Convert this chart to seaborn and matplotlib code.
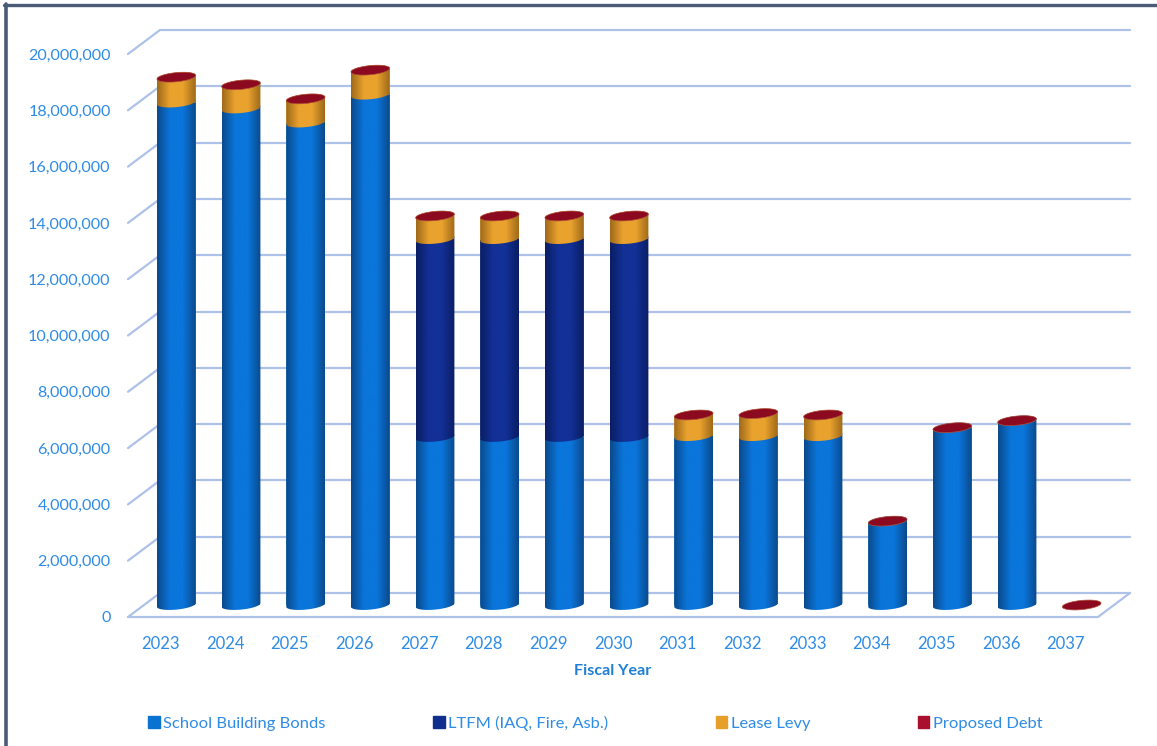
import numpy as np
import pandas as pd
import matplotlib
matplotlib.use("Agg")
import matplotlib.pyplot as plt
import seaborn as sns
from matplotlib.colors import LinearSegmentedColormap
from matplotlib.lines import Line2D
from matplotlib.patches import Patch
from matplotlib.path import Path
from matplotlib.ticker import FuncFormatter
from matplotlib.transforms import ScaledTranslation

years = ["2023", "2024", "2025", "2026", "2027", "2028", "2029", "2030",
         "2031", "2032", "2033", "2034", "2035", "2036", "2037"]
school_bonds = [17850000, 17640000, 17140000, 18130000, 5970000, 5970000, 5970000, 5970000,
                6000000, 6000000, 6000000, 2980000, 6300000, 6550000, 0]
ltfm = [0, 0, 0, 0, 7030000, 7030000, 7030000, 7030000,
        0, 0, 0, 0, 0, 0, 0]
lease_levy = [900000, 840000, 840000, 870000, 820000, 820000, 820000, 820000,
              750000, 800000, 750000, 0, 0, 0, 0]
proposed_debt = [0] * 15
y_ticks = [0, 2000000, 4000000, 6000000, 8000000, 10000000,
           12000000, 14000000, 16000000, 18000000, 20000000]

series_names = ["School Building Bonds", "LTFM (IAQ, Fire, Asb.)", "Lease Levy", "Proposed Debt"]
series_values = [school_bonds, ltfm, lease_levy, proposed_debt]
legend_colors = ["#0A73D2", "#0F2F8F", "#E6A02A", "#A8102E"]
edge_colors = ["#0A4A8C", "#0A1E63", "#A06A1A", "#6E0818"]
mid_colors = ["#0A75DA", "#123096", "#E9A22D", "#8B0A1F"]

W, H = 1157, 746
TEXT_BLUE = "#2E8BE6"
GRID_BLUE = "#AEC1E9"
BAR_WIDTH = 0.6

sns.set_theme(style="white")
plt.rcParams["font.family"] = ["Lato", "DejaVu Sans"]

fig = plt.figure(figsize=(W / 100, H / 100), dpi=100)
# axes sit on the middle plane of the fake 3D box, 20,000,000 = 563 px
px_per_unit = 563 / 20000000
y_low, y_high = -1000000, 21000000
ax_bottom = 605 + 1000000 * px_per_unit
ax_top = 605 - 21000000 * px_per_unit
ax = fig.add_axes([144 / W, 1 - ax_bottom / H, 970 / W, (ax_bottom - ax_top) / H])

front = ScaledTranslation(-16 / 100, 12 / -100, fig.dpi_scale_trans)
depth_x = 16 / (970 / 15)
depth_y = 12 / px_per_unit

bottoms = np.zeros(len(years))
b = 4.6 / px_per_unit
tilt = (1.8 / px_per_unit) / (BAR_WIDTH / 2)


def ellipse_arc(cx, cy, start, stop):
    t = np.linspace(start, stop, 40)
    dx = BAR_WIDTH / 2 * np.cos(t)
    return cx + dx, cy + b * np.sin(t) + tilt * dx


def cylinder_path(cx, low, high):
    x1, y1 = ellipse_arc(cx, low, np.pi, 2 * np.pi)
    x2, y2 = ellipse_arc(cx, high, 0, np.pi)
    return Path(np.column_stack([np.r_[x1, x2, x1[0]], np.r_[y1, y2, y1[0]]]), closed=True)


for k, (name, values) in enumerate(zip(series_names, series_values)):
    df = pd.DataFrame({"year": years, "value": values})
    sns.barplot(data=df, x="year", y="value", bottom=bottoms, color=legend_colors[k], saturation=1,
                width=BAR_WIDTH, ax=ax, zorder=3 + k, linewidth=0)
    cmap = LinearSegmentedColormap.from_list(
        name, [edge_colors[k], mid_colors[k], mid_colors[k], edge_colors[k]])
    for bar in ax.containers[-1]:
        low, high = bar.get_y(), bar.get_y() + bar.get_height()
        if high <= low:
            bar.set_visible(False)
            continue
        cx = bar.get_x() + bar.get_width() / 2
        path = cylinder_path(cx, low, high)
        bar.set_clip_path(path, ax.transData)
        im = ax.imshow(np.linspace(0, 1, 64).reshape(1, -1), cmap=cmap, aspect="auto",
                       extent=(bar.get_x(), bar.get_x() + bar.get_width(), low - 2 * b, high + 2 * b),
                       zorder=3 + k)
        im.set_clip_path(path, ax.transData)
    bottoms = bottoms + np.array(values)

# red cap on top of every stack
for i, total in enumerate(bottoms):
    xs, ys = ellipse_arc(i, total, 0, 2 * np.pi)
    ax.fill(xs, ys, color=mid_colors[3], lw=0.5, ec="#B0503A", zorder=8)

# walls and floor
left, right = -0.5, 14.5
for v in y_ticks:
    ax.plot([left + depth_x, right + depth_x], [v + depth_y, v + depth_y], color=GRID_BLUE, lw=1.6,
            clip_on=False, zorder=1)
    ax.plot([left - depth_x, left + depth_x], [v - depth_y, v + depth_y], color=GRID_BLUE, lw=1.6,
            clip_on=False, zorder=1)
ax.plot([right - depth_x, right + depth_x], [-depth_y, depth_y], color=GRID_BLUE, lw=1.6,
        clip_on=False, zorder=1)
ax.plot([left - depth_x, right - depth_x], [-depth_y, -depth_y], color=GRID_BLUE, lw=1.6,
        clip_on=False, zorder=1)

ax.set_xlim(left, right)
ax.set_ylim(y_low, y_high)
ax.set_yticks(y_ticks)
ax.yaxis.set_major_formatter(FuncFormatter(lambda v, pos: f"{int(v):,}"))
ax.tick_params(axis="y", length=0, pad=12.5, labelsize=11.6, labelcolor=TEXT_BLUE)
ax.tick_params(axis="x", length=0, pad=0, labelsize=12, labelcolor=TEXT_BLUE)
for lab in ax.get_yticklabels() + ax.get_xticklabels():
    lab.set_transform(lab.get_transform() + front)
for lab in ax.get_xticklabels():
    lab.set_transform(lab.get_transform() + ScaledTranslation(0, 0.09, fig.dpi_scale_trans))
for spine in ax.spines.values():
    spine.set_visible(False)
ax.patch.set_visible(False)

ax.set_ylabel("")
ax.set_xlabel("Fiscal Year", fontsize=11.6, fontweight="bold", color="#1F7FD6")
ax.xaxis.set_label_coords(0.5 - 16 / 970, 1 - (664 - ax_top) / (ax_bottom - ax_top))

handles = [Patch(color=c, label=n) for c, n in zip(legend_colors, series_names)]
ax.legend(handles=handles, loc="center left", bbox_to_anchor=(148 / W, 1 - 723 / H),
          bbox_transform=fig.transFigure, ncol=4, frameon=False, fontsize=11.85, labelcolor=TEXT_BLUE,
          handlelength=0.7, handleheight=0.7, handletextpad=0.2, columnspacing=6.55,
          borderpad=0, borderaxespad=0)

# page frame around the chart
fig.add_artist(Line2D([6 / W, 6 / W], [0, 1 - 4 / H], color="#4A5B78", lw=2.6))
fig.add_artist(Line2D([4 / W, 1], [1 - 4.5 / H, 1 - 4.5 / H], color="#4A5B78", lw=2.4))

fig.savefig("out.png", dpi=100)
